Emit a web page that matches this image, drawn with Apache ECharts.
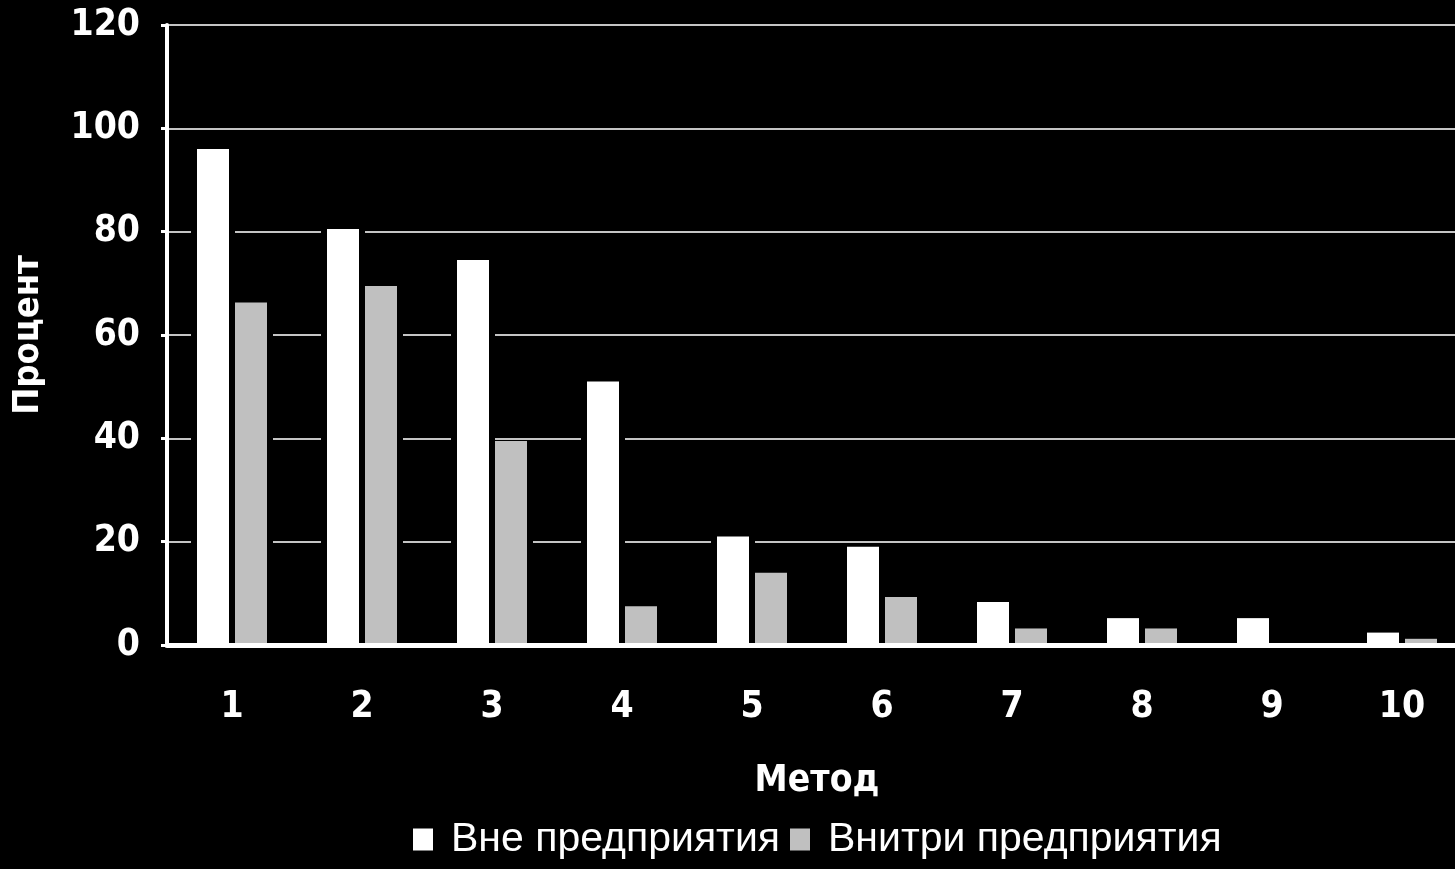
<!DOCTYPE html>
<html>
<head>
<meta charset="utf-8">
<script src="https://cdn.jsdelivr.net/npm/echarts@6/dist/echarts.min.js"></script>
<style>
  html, body { margin: 0; padding: 0; background: #000; }
  #chart { width: 1455px; height: 869px; }
</style>
</head>
<body>
<div id="chart"></div>
<script>
const methods = ['1', '2', '3', '4', '5', '6', '7', '8', '9', '10']
const outsideCompany = [96, 80.5, 74.5, 51, 21, 19, 8.3, 5.2, 5.2, 2.4]
const insideCompany = [66.3, 69.5, 39.5, 7.5, 14, 9.3, 3.2, 3.2, 0, 1.2]
const seriesNames = ['Вне предприятия', 'Внитри предприятия']

const boldFont = "'DejaVu Sans Condensed', 'DejaVu Sans', sans-serif"

// black halo behind each bar, cuts the grid lines next to the bars
const haloBar = (data) => ({
  type: 'bar',
  xAxisIndex: 1,
  data: data,
  barWidth: 44,
  barGap: '-13.64%',
  z: 1,
  silent: true,
  itemStyle: { color: '#000' },
})

const chart = echarts.init(document.getElementById('chart'))
chart.setOption({
  backgroundColor: '#000',
  animation: false,
  grid: {
    left: 167,
    top: 25,
    width: 1300,
    height: 620,
    outerBoundsMode: 'none',
    containLabel: false,
  },
  legend: {
    data: seriesNames,
    left: 408,
    top: 814,
    itemWidth: 20,
    itemHeight: 22,
    itemGap: 10,
    icon: 'rect',
    textStyle: {
      color: '#fff',
      fontFamily: "'Liberation Sans', Arial, sans-serif",
      fontSize: 41,
      padding: [6, 0, 0, 13],
    },
  },
  xAxis: [
    {
      type: 'category',
      data: methods,
      z: 5,
      name: 'Метод',
      nameLocation: 'middle',
      nameGap: 118,
      nameTextStyle: {
        color: '#fff',
        fontFamily: boldFont,
        fontWeight: 'bold',
        fontSize: 37,
      },
      axisLine: { lineStyle: { color: '#fff', width: 5 } },
      axisTick: { length: 8, lineStyle: { color: '#fff', width: 3 } },
      axisLabel: {
        color: '#fff',
        fontFamily: boldFont,
        fontWeight: 'bold',
        fontSize: 37,
        margin: 44,
      },
    },
    {
      type: 'category',
      data: methods,
      show: false,
    },
  ],
  yAxis: {
    type: 'value',
    min: 0,
    max: 120,
    interval: 20,
    name: 'Процент',
    nameLocation: 'middle',
    nameGap: 120,
    nameRotate: 90,
    nameTextStyle: {
      color: '#fff',
      fontFamily: boldFont,
      fontWeight: 'bold',
      fontSize: 36,
    },
    axisLine: { show: true, lineStyle: { color: '#fff', width: 4 } },
    axisTick: { show: true, length: 6, lineStyle: { color: '#fff', width: 3 } },
    axisLabel: {
      color: '#fff',
      fontFamily: boldFont,
      fontWeight: 'bold',
      fontSize: 37,
      margin: 27,
    },
    splitLine: { lineStyle: { color: '#c4c4c4', width: 2 } },
  },
  series: [
    haloBar(outsideCompany),
    haloBar(insideCompany),
    {
      name: seriesNames[0],
      type: 'bar',
      data: outsideCompany,
      barWidth: 32,
      barGap: '18.75%',
      z: 2,
      itemStyle: { color: '#fff' },
    },
    {
      name: seriesNames[1],
      type: 'bar',
      data: insideCompany,
      barWidth: 32,
      z: 2,
      itemStyle: { color: '#c0c0c0' },
    },
  ],
})
</script>
</body>
</html>
